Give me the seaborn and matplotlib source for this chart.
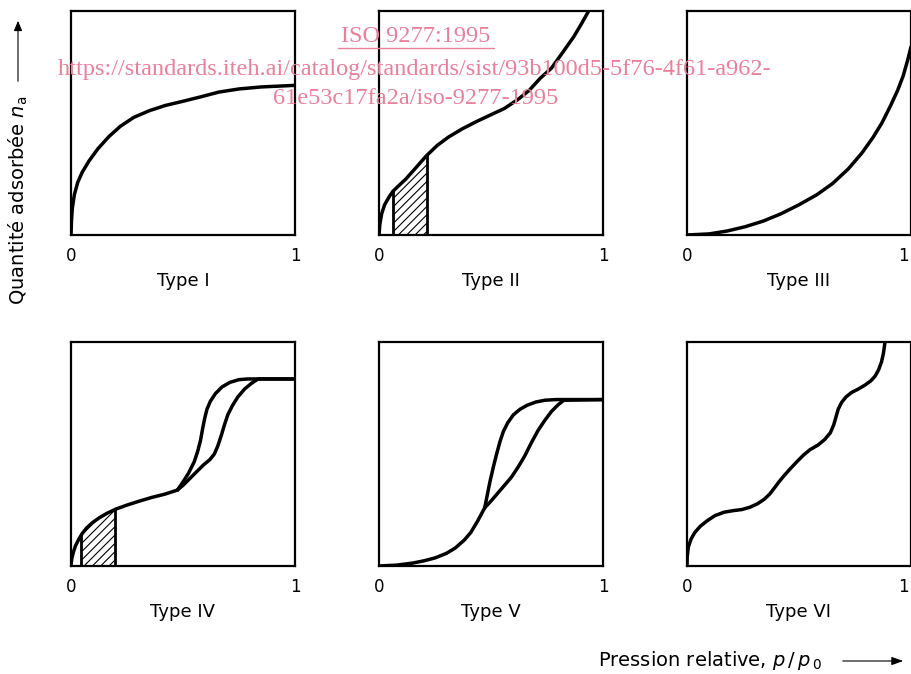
import matplotlib
matplotlib.use("Agg")
import matplotlib.pyplot as plt
import seaborn as sns

sns.set_theme(style="white")
plt.rcParams["font.family"] = ["DejaVu Sans"]
plt.rcParams["hatch.linewidth"] = 0.8
plt.rcParams["text.color"] = "black"

# Type I
t1_x = [0.0, 0.002, 0.006, 0.015, 0.03, 0.05, 0.08, 0.12, 0.17, 0.22, 0.28, 0.35,
        0.42, 0.5, 0.58, 0.66, 0.75, 0.85, 1.0]
t1_y = [0.0, 0.06, 0.12, 0.18, 0.235, 0.28, 0.33, 0.385, 0.44, 0.485, 0.525, 0.555,
        0.578, 0.597, 0.617, 0.638, 0.652, 0.661, 0.668]

# Type II
t2_x = [0.0, 0.004, 0.012, 0.025, 0.045, 0.063, 0.09, 0.12, 0.16, 0.21, 0.26, 0.31,
        0.37, 0.436, 0.5, 0.56, 0.62, 0.67, 0.72, 0.77, 0.82, 0.87, 0.905, 0.936]
t2_y = [0.0, 0.05, 0.095, 0.135, 0.17, 0.196, 0.222, 0.25, 0.295, 0.352, 0.40, 0.437,
        0.473, 0.507, 0.537, 0.565, 0.605, 0.645, 0.70, 0.745, 0.815, 0.886, 0.945, 1.0]
t2_hatch_x = [0.063, 0.09, 0.12, 0.16, 0.216]
t2_hatch_y = [0.196, 0.222, 0.25, 0.295, 0.358]

# Type III
t3_x = [0.0, 0.1, 0.18, 0.26, 0.34, 0.42, 0.5, 0.58, 0.65, 0.72, 0.78, 0.83, 0.87,
        0.91, 0.94, 0.965, 0.985, 1.0]
t3_y = [0.0, 0.005, 0.018, 0.037, 0.062, 0.095, 0.135, 0.18, 0.23, 0.295, 0.365,
        0.435, 0.50, 0.58, 0.645, 0.71, 0.78, 0.84]

# Type IV (partie commune + deux branches de la boucle d'hystérésis)
t4_x = [0.0, 0.003, 0.01, 0.02, 0.035, 0.05, 0.07, 0.095, 0.126, 0.16, 0.2, 0.25,
        0.3, 0.36, 0.42, 0.475]
t4_y = [0.0, 0.03, 0.06, 0.09, 0.12, 0.145, 0.17, 0.193, 0.215, 0.235, 0.254, 0.272,
        0.288, 0.306, 0.321, 0.339]
t4_ads_x = [0.475, 0.50, 0.53, 0.56, 0.59, 0.62, 0.64, 0.655, 0.67, 0.685, 0.70,
            0.72, 0.745, 0.775, 0.805, 0.835, 1.0]
t4_ads_y = [0.339, 0.36, 0.39, 0.42, 0.45, 0.475, 0.50, 0.535, 0.58, 0.63, 0.675,
            0.715, 0.755, 0.79, 0.815, 0.835, 0.835]
t4_des_x = [0.475, 0.50, 0.525, 0.55, 0.565, 0.578, 0.588, 0.597, 0.607, 0.622,
            0.645, 0.675, 0.71, 0.75, 0.79, 1.0]
t4_des_y = [0.339, 0.375, 0.415, 0.465, 0.51, 0.56, 0.615, 0.66, 0.70, 0.735,
            0.77, 0.80, 0.82, 0.832, 0.835, 0.835]
t4_hatch_x = [0.045, 0.05, 0.07, 0.095, 0.126, 0.16, 0.196]
t4_hatch_y = [0.137, 0.145, 0.17, 0.193, 0.215, 0.235, 0.253]

# Type V
t5_x = [0.0, 0.08, 0.15, 0.2, 0.25, 0.3, 0.34, 0.38, 0.41, 0.44, 0.472]
t5_y = [0.0, 0.004, 0.013, 0.023, 0.036, 0.056, 0.08, 0.115, 0.15, 0.2, 0.26]
t5_ads_x = [0.472, 0.5, 0.53, 0.56, 0.59, 0.62, 0.65, 0.68, 0.71, 0.74, 0.77, 0.8,
            0.825, 1.0]
t5_ads_y = [0.26, 0.29, 0.325, 0.36, 0.395, 0.44, 0.49, 0.55, 0.605, 0.65, 0.69,
            0.72, 0.74, 0.743]
t5_des_x = [0.472, 0.482, 0.495, 0.51, 0.525, 0.54, 0.555, 0.575, 0.6, 0.63, 0.66,
            0.7, 0.74, 0.79, 1.0]
t5_des_y = [0.26, 0.31, 0.375, 0.44, 0.50, 0.555, 0.60, 0.64, 0.675, 0.70, 0.717,
            0.732, 0.74, 0.743, 0.743]

# Type VI
t6_x = [0.0, 0.001, 0.006, 0.018, 0.035, 0.06, 0.09, 0.125, 0.165, 0.205, 0.245,
        0.28, 0.315, 0.345, 0.37, 0.39, 0.41, 0.435, 0.46, 0.49, 0.52, 0.55, 0.585,
        0.615, 0.64, 0.655, 0.665, 0.675, 0.69, 0.71, 0.735, 0.765, 0.795, 0.82,
        0.84, 0.855, 0.868, 0.877, 0.884]
t6_y = [0.0, 0.04, 0.085, 0.12, 0.15, 0.178, 0.202, 0.225, 0.24, 0.247, 0.252,
        0.262, 0.278, 0.298, 0.322, 0.348, 0.375, 0.405, 0.433, 0.465, 0.495, 0.52,
        0.54, 0.565, 0.595, 0.63, 0.665, 0.70, 0.73, 0.755, 0.775, 0.79, 0.808,
        0.826, 0.848, 0.875, 0.91, 0.95, 1.0]

titres = ["Type I", "Type II", "Type III", "Type IV", "Type V", "Type VI"]

W, H = 911, 674
fig = plt.figure(figsize=(9.11, 6.74), dpi=100)

lefts = [71, 379, 687]
tops = [11, 342]
taille = 224

courbes = [
    [(t1_x, t1_y)],
    [(t2_x, t2_y)],
    [(t3_x, t3_y)],
    [(t4_x, t4_y), (t4_ads_x, t4_ads_y), (t4_des_x, t4_des_y)],
    [(t5_x, t5_y), (t5_ads_x, t5_ads_y), (t5_des_x, t5_des_y)],
    [(t6_x, t6_y)],
]
hachures = {1: (t2_hatch_x, t2_hatch_y), 3: (t4_hatch_x, t4_hatch_y)}

for i in range(6):
    l = lefts[i % 3]
    t = tops[i // 3]
    ax = fig.add_axes([l / W, (H - t - taille) / H, taille / W, taille / H])
    for xs, ys in courbes[i]:
        sns.lineplot(x=xs, y=ys, sort=False, estimator=None, color="black",
                     linewidth=2.5, ax=ax, solid_capstyle="round",
                     solid_joinstyle="round")
    if i in hachures:
        hx, hy = hachures[i]
        ax.fill_between(hx, 0, hy, facecolor="none", edgecolor="black",
                        hatch="////", linewidth=0)
        ax.plot([hx[0], hx[0]], [0, hy[0]], color="black", lw=2.0)
        ax.plot([hx[-1], hx[-1]], [0, hy[-1]], color="black", lw=2.0)
    ax.set_xlim(0, 1)
    ax.set_ylim(0, 1)
    ax.set_xticks([])
    ax.set_yticks([])
    for s in ax.spines.values():
        s.set_color("black")
        s.set_linewidth(1.6)
    ax.text(0, -0.055, "0", transform=ax.transAxes, ha="center", va="top", fontsize=12)
    if i % 3 == 2:
        # dernière colonne : le « 1 » reste dans la figure
        ax.text(0.99, -0.055, "1", transform=ax.transAxes, ha="right", va="top", fontsize=12)
    else:
        ax.text(1, -0.055, "1", transform=ax.transAxes, ha="center", va="top", fontsize=12)
    ax.text(0.5, -0.165, titres[i], transform=ax.transAxes, ha="center", va="top", fontsize=13)

# axe vertical : libellé + flèche
fig.text(18 / W, 1 - 200 / H, r"Quantité adsorbée $n_{\mathrm{a}}$", rotation=90,
         ha="center", va="center", fontsize=14)
fig.add_artist(matplotlib.patches.FancyArrowPatch(
    (18 / W, 1 - 84 / H), (18 / W, 1 - 18 / H), transform=fig.transFigure,
    arrowstyle="-|>,head_length=6,head_width=2.5", color="black", lw=0.8))

# axe horizontal : libellé + flèche
fig.text(598 / W, 1 - 661 / H, r"Pression relative, $p\,/\,p_{\,0}$",
         ha="left", va="center", fontsize=14)
fig.add_artist(matplotlib.patches.FancyArrowPatch(
    (840 / W, 1 - 661 / H), (906 / W, 1 - 661 / H), transform=fig.transFigure,
    arrowstyle="-|>,head_length=7,head_width=2.5", color="black", lw=0.8))

# filigrane
rose = "#e8809c"
fig.text(416 / W, 1 - 36 / H, "ISO 9277:1995", ha="center", va="center",
         fontsize=17.5, color=rose, family="Liberation Serif")
fig.add_artist(matplotlib.lines.Line2D([338 / W, 494 / W], [1 - 48 / H, 1 - 48 / H],
                                       color=rose, lw=1))
fig.text(415 / W, 1 - 69 / H,
         "https://standards.iteh.ai/catalog/standards/sist/93b100d5-5f76-4f61-a962-",
         ha="center", va="center", fontsize=17.5, color=rose, family="Liberation Serif")
fig.text(416 / W, 1 - 99 / H, "61e53c17fa2a/iso-9277-1995",
         ha="center", va="center", fontsize=17.5, color=rose, family="Liberation Serif")

fig.savefig("out.png", dpi=100)
